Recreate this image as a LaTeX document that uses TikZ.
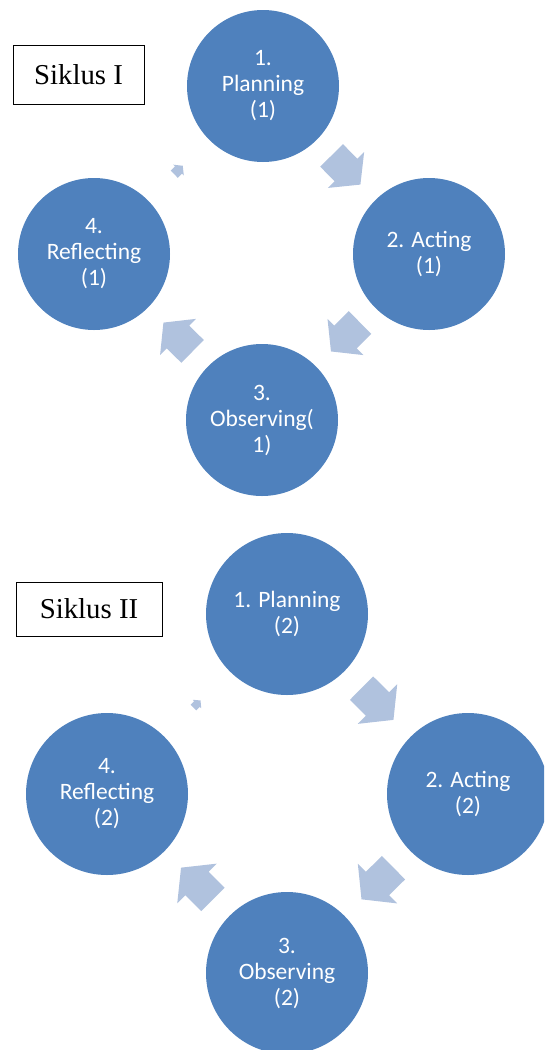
\documentclass[tikz,border=0pt]{standalone}
\usepackage{fontspec}
\setmainfont{Carlito}
\newfontfamily\labelfont{Liberation Serif}
\usetikzlibrary{calc}
\definecolor{circblue}{HTML}{4F81BD}
\definecolor{arrowblue}{HTML}{B0C2DE}
\tikzset{
  stepcircle/.style={circle, fill=circblue, text=white, inner sep=0pt, align=center,
    font=\fontsize{23.5}{26}\selectfont},
  cycA/.style={stepcircle, minimum size=152pt},
  cycB/.style={stepcircle, minimum size=162pt},
  cyclabel/.style={draw=black, line width=0.9pt, inner sep=0pt,
    font=\labelfont\fontsize{28.8}{32}\selectfont},
  arrowfill/.style={fill=arrowblue},
}
% block arrow between two named nodes: #1 from, #2 to, #3 length, #4 shaft half width, #5 head half width
\newcommand\cycarrow[5]{%
  \fill[arrowfill] let \p1=($(#2.center)-(#1.center)$), \n1={atan2(\y1,\x1)} in
    [shift={($(#1.center)!0.5!(#2.center)$)}, rotate=\n1]
    (-#3/2,-#4) -- (0,-#4) -- (0,-#5) -- (#3/2,0) -- (0,#5) -- (0,#4) -- (-#3/2,#4) -- cycle;
}
\begin{document}
\begin{tikzpicture}[x=1pt,y=1pt]
\useasboundingbox (0,0) rectangle (544,-1050);
\clip (0,0) rectangle (544,-1050);

% ---------- Siklus I ----------
\node[cyclabel, minimum width=131pt, minimum height=59pt] (labA) at (78.5,-74.5) {Siklus I};
\node[cycA] (a1) at (263,-86) {1.\\Planning\\(1)};
\node[cycA] (a2) at (429,-254) {2. Acting\\(1)};
\node[cycA] (a3) at (262,-420) {3.\\Observing(\\1)};
\node[cycA] (a4) at (94,-254) {4.\\Reflecting\\(1)};
\cycarrow{a1}{a2}{41}{16}{25.5}
\cycarrow{a2}{a3}{41}{16}{25.5}
\cycarrow{a3}{a4}{41}{16}{25.5}
\cycarrow{a4}{a1}{12}{5}{7.5}

% ---------- Siklus II ----------
\node[cyclabel, minimum width=146pt, minimum height=54pt] (labB) at (89,-609) {Siklus II};
\node[cycB] (b1) at (287,-614) {1. Planning\\(2)};
\node[cycB] (b2) at (468,-794) {2. Acting\\(2)};
\node[cycB] (b3) at (287,-973) {3.\\Observing\\(2)};
\node[cycB] (b4) at (107,-794) {4.\\Reflecting\\(2)};
\cycarrow{b1}{b2}{45}{16.5}{28}
\cycarrow{b2}{b3}{45}{16.5}{28}
\cycarrow{b3}{b4}{45}{16.5}{28}
\cycarrow{b4}{b1}{10}{4}{6}
\end{tikzpicture}
\end{document}
